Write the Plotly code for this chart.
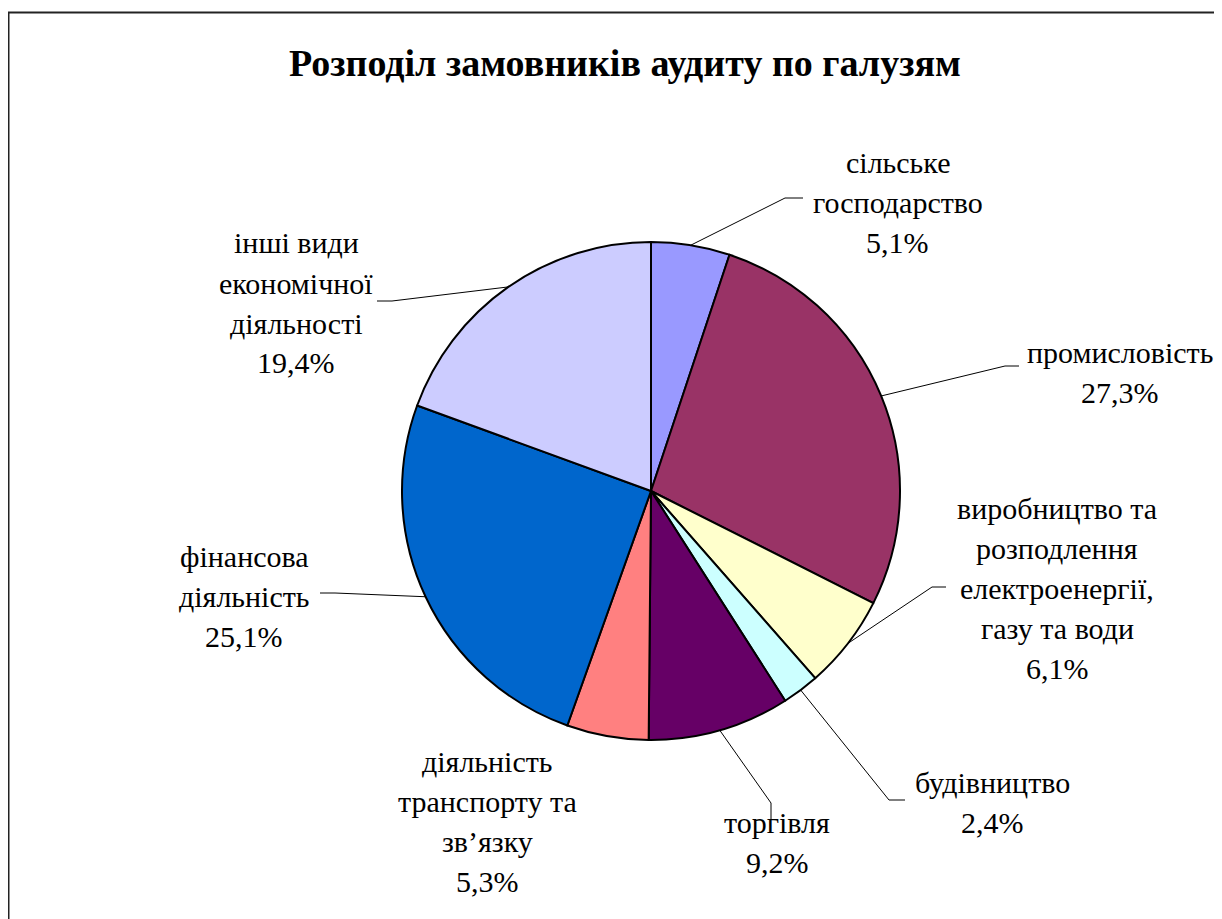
import math
import plotly.graph_objects as go

# data
categories = [
    "сільське господарство",
    "промисловість",
    "виробництво та розподлення електроенергії, газу та води",
    "будівництво",
    "торгівля",
    "діяльність транспорту та зв’язку",
    "фінансова діяльність",
    "інші види економічної діяльності",
]
shares = [5.1, 27.3, 6.1, 2.4, 9.2, 5.3, 25.1, 19.4]
label_lines = [
    ["сільське", "господарство"],
    ["промисловість"],
    ["виробництво та", "розподлення", "електроенергії,", "газу та води"],
    ["будівництво"],
    ["торгівля"],
    ["діяльність", "транспорту та", "зв’язку"],
    ["фінансова", "діяльність"],
    ["інші види", "економічної", "діяльності"],
]
colors = ["#9999FF", "#993366", "#FFFFCC", "#CCFFFF",
          "#660066", "#FF8080", "#0066CC", "#CCCCFF"]

W, H = 1222, 919
OFF = 8  # page body margin
CX, CY, R = 651, 491, 249
LINE_H = 40
FONT = "Liberation Serif, Times New Roman, serif"

# label placement (pixels): centre x, first-line y
label_pos = [(898, 162), (1120, 352), (1057, 508), (992, 782),
             (777, 822), (488, 761), (244, 556), (296, 243)]
# leader lines: elbow and end point (pixels), None = no leader
leaders = [((785, 198), (803, 198)), ((1005, 366), (1019, 366)),
           ((932, 587), (946, 587)), ((889, 800), (905, 800)),
           ((771, 803), (771, 819)), None,
           ((335, 593), (320, 593)), ((392, 301), (377, 301))]


def px(x):
    return (x - OFF) / W


def py(y):
    return 1 - (y - OFF) / H


fig = go.Figure(go.Pie(
    labels=categories,
    values=shares,
    sort=False,
    direction="clockwise",
    rotation=0,
    textinfo="none",
    hoverinfo="label+percent",
    marker=dict(colors=colors, line=dict(color="black", width=2)),
    domain=dict(x=[px(CX - R), px(CX + R)], y=[py(CY + R), py(CY - R)]),
    showlegend=False,
))

annotations = [dict(
    text="<b>Розподіл замовників аудиту по галузям</b>",
    x=px(625), y=py(63), xref="paper", yref="paper",
    xanchor="center", yanchor="middle", showarrow=False,
    font=dict(family=FONT, size=38, color="black"),
)]
shapes = [dict(
    type="rect", xref="paper", yref="paper",
    x0=px(8.5), y0=py(935), x1=px(1240), y1=py(12.5),
    line=dict(color="#222222", width=2),
)]

total = sum(shares)
cum = 0
for lines, val, pos, lead in zip(label_lines, shares, label_pos, leaders):
    mid = (cum + val / 2) / total * 2 * math.pi
    cum += val
    all_lines = lines + [f"{val:.1f}%".replace(".", ",")]
    for i, t in enumerate(all_lines):
        annotations.append(dict(
            text=t, x=px(pos[0]), y=py(pos[1] + i * LINE_H),
            xref="paper", yref="paper", xanchor="center", yanchor="middle",
            showarrow=False, font=dict(family=FONT, size=30, color="black"),
        ))
    if lead:
        ex = CX + R * math.sin(mid)
        ey = CY - R * math.cos(mid)
        (bx, by), (tx, ty) = lead
        shapes.append(dict(
            type="path", xref="paper", yref="paper",
            path=f"M {px(ex)},{py(ey)} L {px(bx)},{py(by)} L {px(tx)},{py(ty)}",
            line=dict(color="black", width=1),
        ))

fig.update_layout(
    width=W, height=H,
    margin=dict(l=0, r=0, t=0, b=0),
    paper_bgcolor="white",
    plot_bgcolor="white",
    annotations=annotations,
    shapes=shapes,
)

fig.write_html("out.html")
